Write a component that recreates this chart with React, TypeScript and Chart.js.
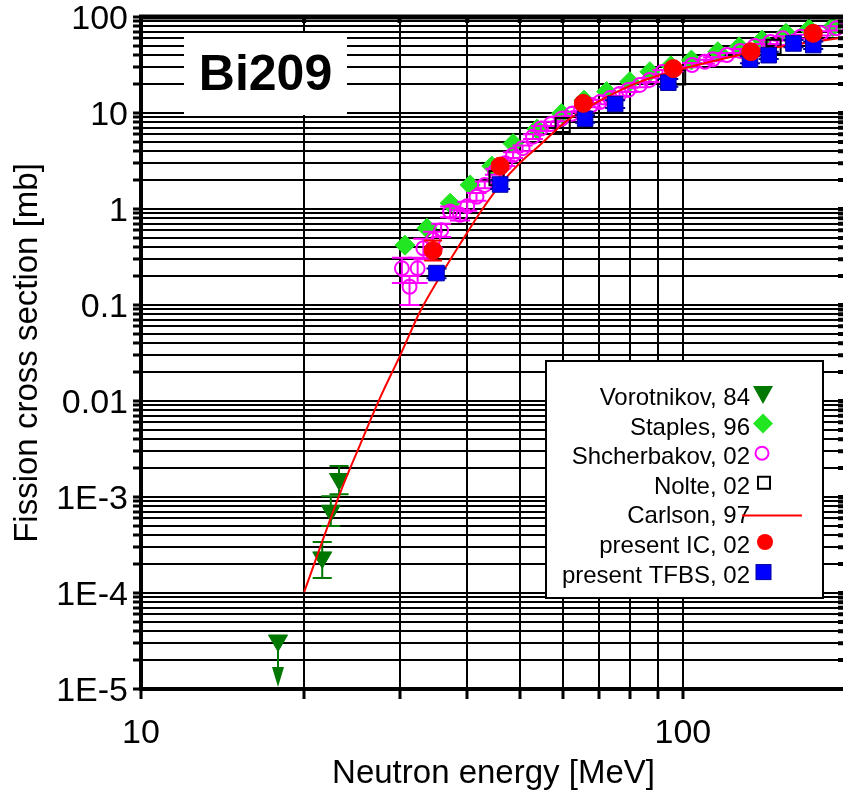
import React, { useEffect, useRef } from 'react';
import { Chart, registerables } from 'chart.js';

Chart.register(...registerables);

// ---------------- data ----------------
const xTickValues = [10, 20, 30, 40, 50, 60, 70, 80, 90, 100, 200];
const xTickLabels = ['10', '', '', '', '', '', '', '', '', '100', ''];

const yGridValues = [
  1e-5, 2e-5, 3e-5, 4e-5, 5e-5, 6e-5, 7e-5, 8e-5, 9e-5,
  1e-4, 2e-4, 3e-4, 4e-4, 5e-4, 6e-4, 7e-4, 8e-4, 9e-4,
  1e-3, 2e-3, 3e-3, 4e-3, 5e-3, 6e-3, 7e-3, 8e-3, 9e-3,
  0.01, 0.02, 0.03, 0.04, 0.05, 0.06, 0.07, 0.08, 0.09,
  0.1, 0.2, 0.3, 0.4, 0.5, 0.6, 0.7, 0.8, 0.9,
  1, 2, 3, 4, 5, 6, 7, 8, 9,
  10, 20, 30, 40, 50, 60, 70, 80, 90,
  100,
];
const yMajorValues = [1e-5, 1e-4, 1e-3, 0.01, 0.1, 1, 10, 100];
const yMajorLabels = ['1E-5', '1E-4', '1E-3', '0.01', '0.1', '1', '10', '100'];

const xTitle = 'Neutron energy [MeV]';
const yTitle = 'Fission cross section [mb]';
const plotLabel = 'Bi209';
const legendLabels = [
  'Vorotnikov, 84',
  'Staples, 96',
  'Shcherbakov, 02',
  'Nolte, 02',
  'Carlson, 97',
  'present IC, 02',
  'present TFBS, 02',
];

// Vorotnikov, 84
const vorotE = [17.9, 21.6, 22.4, 23.2];
const vorotV = [3.2e-5, 2.35e-4, 7.2e-4, 1.54e-3];
const vorotLo = [null, 1.43e-4, 5.0e-4, 1.07e-3];
const vorotHi = [null, 3.4e-4, 1.02e-3, 2.1e-3];
const vorotArrowTo = [1.05e-5, null, null, null];

// Staples, 96
const stapE = [30.7, 33.7, 37.2, 40.5, 44.4, 48.6, 53.8, 59.7, 65.7, 72.3, 79.8, 86.9, 95, 103.7, 116, 127, 140, 155, 171, 189];
const stapV = [0.42, 0.63, 1.15, 1.78, 2.8, 4.8, 6.8, 9.9, 13.6, 16.7, 21.2, 26.9, 31, 35.6, 43.5, 49, 57.5, 67.6, 75, 79];

// Shcherbakov, 02
const shchE = [30.3, 31.3, 32.4, 33.2, 34.6, 35.8, 37.2, 38.8, 40.0, 41.6, 43.1, 45.0, 47.0, 48.6, 50.6, 52.9, 54.7, 57.1, 59.7, 62.4, 64.9, 67.8, 70.3, 73.4, 76.4, 79.3, 83.3, 86.8, 91.7, 96.6, 104, 109.8, 113.6, 120.6, 127.6, 135.8, 145, 152.8, 165, 180, 192];
const shchV = [0.241, 0.155, 0.241, 0.39, 0.48, 0.6, 0.94, 0.87, 1.07, 1.34, 1.78, 2.45, 2.99, 3.65, 4.3, 5.67, 6.9, 7.7, 8.7, 9.8, 11.0, 12.1, 13.0, 14.3, 15.8, 17.4, 19.6, 22.1, 26.7, 28.7, 31.6, 34.2, 36.3, 40.2, 44.3, 49.9, 54.9, 60, 62.3, 67.6, 76.3];
const shchLo = [0.17, 0.1, 0.17, 0.3, 0.39, 0.51, 0.82, 0.76, 0.96, 1.22, 1.64, 2.27, 2.8, 3.4, 4.0, 5.35, 6.5, 7.3, 8.2, 9.3, 10.4, 11.5, 12.3, 13.6, 15.0, 16.5, 18.6, 21.0, 25.4, 27.3, 30.0, 32.5, 34.5, 38.2, 42.1, 47.4, 52.2, 57, 59.2, 64.2, 72.5];
const shchHi = [0.31, 0.2, 0.31, 0.49, 0.58, 0.7, 1.06, 0.98, 1.19, 1.47, 1.93, 2.63, 3.2, 3.9, 4.6, 6.0, 7.3, 8.1, 9.2, 10.3, 11.6, 12.7, 13.7, 15.0, 16.6, 18.3, 20.6, 23.2, 28.0, 30.1, 33.2, 35.9, 38.1, 42.2, 46.5, 52.4, 57.6, 63, 65.4, 71, 80.1];

// Nolte, 02
const nolteE = [45.3, 60, 98, 147];
const nolteV = [2.1, 7.5, 23.5, 49];

// Carlson, 97 (evaluation curve)
const carlE = [20, 23.3, 25.4, 27.6, 30.1, 32.7, 35.6, 38.8, 42.2, 46, 50, 54.5, 61, 70, 83, 110, 147, 184, 200];
const carlV = [1.02e-4, 1.1e-3, 3.56e-3, 0.0107, 0.0301, 0.0846, 0.196, 0.432, 0.909, 1.78, 3.01, 4.64, 8.25, 13.3, 21.0, 33.2, 47.5, 57.6, 61.9];

// present IC, 02
const icE = [34.6, 46, 65.5, 96, 133.5, 174];
const icV = [0.37, 2.8, 12.6, 29, 43.5, 67.6];
const icLo = [0.29, 2.6, 11.8, 27.3, 41, 63.5];
const icHi = [0.47, 3.0, 13.4, 30.8, 46, 72];

// present TFBS, 02
const tfE = [35.1, 46, 66, 75, 94, 133, 144, 160, 174];
const tfV = [0.215, 1.8, 8.7, 12.4, 20.7, 36, 40, 53, 51];
const tfLo = [0.19, 1.62, 7.9, 11.3, 18.8, 33, 36.5, 48.5, 46.5];
const tfHi = [0.24, 1.98, 9.5, 13.6, 22.6, 39, 43.5, 57.5, 55.5];

// ---------------- styles ----------------
const FONT = "'Liberation Sans', Arial, Helvetica, sans-serif";
const C_VOROT = '#007800';
const C_STAP = '#22e622';
const C_SHCH = '#ff00ff';
const C_NOLTE = '#000000';
const C_CARL = '#ff0000';
const C_IC = '#ff0000';
const C_TF = '#0000ff';

const pts = (xs: number[], ys: number[]) => xs.map((x, i) => ({ x, y: ys[i] }));

const errorBarPlugin = {
  id: 'errorBars',
  beforeDatasetDraw(chart: any, args: any) {
    const ds: any = chart.data.datasets[args.index];
    const meta = args.meta;
    const yScale = chart.scales.y;
    const ctx = chart.ctx;
    const area = chart.chartArea;
    ctx.save();
    ctx.beginPath();
    ctx.rect(area.left, area.top, area.right - area.left, area.bottom - area.top);
    ctx.clip();
    ctx.strokeStyle = ds.errColor || ds.borderColor;
    ctx.fillStyle = ds.errColor || ds.borderColor;
    ctx.lineWidth = 2;
    const cap = (ds.capWidth || 16) / 2;
    meta.data.forEach((el: any, i: number) => {
      const x = el.x;
      if (ds.errLo && ds.errHi && ds.errLo[i] != null && ds.errHi[i] != null) {
        const y1 = yScale.getPixelForValue(ds.errLo[i]);
        const y2 = yScale.getPixelForValue(ds.errHi[i]);
        ctx.beginPath();
        ctx.moveTo(x, y1); ctx.lineTo(x, y2);
        ctx.moveTo(x - cap, y1); ctx.lineTo(x + cap, y1);
        ctx.moveTo(x - cap, y2); ctx.lineTo(x + cap, y2);
        ctx.stroke();
      }
      if (ds.arrowTo && ds.arrowTo[i] != null) {
        const yTip = yScale.getPixelForValue(ds.arrowTo[i]);
        ctx.beginPath();
        ctx.moveTo(x, el.y); ctx.lineTo(x, yTip - 18);
        ctx.stroke();
        ctx.beginPath();
        ctx.moveTo(x - 6, yTip - 20);
        ctx.lineTo(x + 6, yTip - 20);
        ctx.lineTo(x, yTip);
        ctx.closePath();
        ctx.fill();
      }
    });
    ctx.restore();
  },
};

const overlayPlugin = {
  id: 'overlay',
  beforeDatasetsDraw(chart: any) {
    const ctx = chart.ctx;
    const a = chart.chartArea;
    ctx.save();
    // Bi209 label box
    const bx = a.left + 43, by = a.top + 16, bw = 163, bh = 82;
    ctx.fillStyle = '#ffffff';
    ctx.fillRect(bx, by, bw, bh);
    ctx.fillStyle = '#000';
    ctx.font = `bold 50px ${FONT}`;
    ctx.textAlign = 'center';
    ctx.textBaseline = 'middle';
    ctx.fillText(plotLabel, bx + bw / 2, by + bh / 2 + 2);

    // legend box
    const lx = a.left + 405, ly = a.top + 344, lw = 277, lh = 237;
    ctx.fillStyle = '#ffffff';
    ctx.fillRect(lx, ly, lw, lh);
    ctx.strokeStyle = '#000';
    ctx.lineWidth = 2;
    ctx.strokeRect(lx, ly, lw, lh);

    const textRight = lx + 204;
    const mx = lx + 217;
    const base0 = ly + 44;
    const step = 29.6;
    ctx.font = `24px ${FONT}`;
    ctx.textAlign = 'right';
    ctx.textBaseline = 'alphabetic';
    legendLabels.forEach((lab, i) => {
      const by2 = base0 + i * step;
      ctx.fillStyle = '#000';
      ctx.fillText(lab, textRight, by2);
      const my = by2 - 11;
      ctx.beginPath();
      switch (i) {
        case 0: // down triangle
          ctx.fillStyle = C_VOROT;
          ctx.moveTo(mx - 10, my - 8);
          ctx.lineTo(mx + 10, my - 8);
          ctx.lineTo(mx, my + 10);
          ctx.closePath();
          ctx.fill();
          break;
        case 1: // diamond
          ctx.fillStyle = C_STAP;
          ctx.moveTo(mx, my - 10);
          ctx.lineTo(mx + 10, my);
          ctx.lineTo(mx, my + 10);
          ctx.lineTo(mx - 10, my);
          ctx.closePath();
          ctx.fill();
          break;
        case 2: // open circle
          ctx.strokeStyle = C_SHCH;
          ctx.lineWidth = 2;
          ctx.arc(mx - 1, my, 6.5, 0, Math.PI * 2);
          ctx.stroke();
          break;
        case 3: // open square
          ctx.strokeStyle = C_NOLTE;
          ctx.lineWidth = 2;
          ctx.rect(mx - 5, my - 6, 12, 12);
          ctx.stroke();
          break;
        case 4: // line
          ctx.strokeStyle = C_CARL;
          ctx.lineWidth = 2;
          ctx.moveTo(lx + 196, by2 - 8);
          ctx.lineTo(lx + 256, by2 - 8);
          ctx.stroke();
          break;
        case 5: // filled circle
          ctx.fillStyle = C_IC;
          ctx.arc(mx + 2, my, 8, 0, Math.PI * 2);
          ctx.fill();
          break;
        case 6: // filled square
          ctx.fillStyle = C_TF;
          ctx.fillRect(mx - 7, my - 7, 15, 15);
          ctx.strokeStyle = '#0000a0';
          ctx.lineWidth = 1;
          ctx.strokeRect(mx - 7, my - 7, 15, 15);
          break;
      }
    });
    ctx.restore();
  },
  afterDraw(chart: any) {
    const ctx = chart.ctx;
    const a = chart.chartArea;
    const xs = chart.scales.x;
    const ys = chart.scales.y;
    ctx.save();
    ctx.strokeStyle = '#000';
    // inward ticks on the right and top axes
    ctx.lineWidth = 4;
    ctx.beginPath();
    yGridValues.forEach((v) => {
      const py = ys.getPixelForValue(v);
      ctx.moveTo(a.right - 8, py);
      ctx.lineTo(a.right, py);
    });
    xTickValues.forEach((v) => {
      const px = xs.getPixelForValue(v);
      ctx.moveTo(px, a.top);
      ctx.lineTo(px, a.top + 6);
    });
    ctx.stroke();
    // frame top and right
    ctx.lineWidth = 5;
    ctx.beginPath();
    ctx.moveTo(a.left - 2, a.top);
    ctx.lineTo(a.right, a.top);
    ctx.stroke();
    ctx.lineWidth = 4;
    ctx.beginPath();
    ctx.moveTo(a.right, a.top);
    ctx.lineTo(a.right, a.bottom);
    ctx.stroke();
    ctx.restore();
  },
};

export default function App() {
  const ref = useRef<HTMLCanvasElement | null>(null);
  useEffect(() => {
    if (!ref.current) return;
    const chart = new Chart(ref.current, {
      type: 'scatter',
      data: {
        datasets: [
          {
            label: legendLabels[0],
            data: pts(vorotE, vorotV),
            pointStyle: 'triangle',
            rotation: 180,
            pointRadius: 11,
            backgroundColor: C_VOROT,
            borderColor: C_VOROT,
            borderWidth: 1,
            errLo: vorotLo,
            errHi: vorotHi,
            arrowTo: vorotArrowTo,
            capWidth: 19,
            order: 6,
          } as any,
          {
            label: legendLabels[1],
            data: pts(stapE, stapV),
            pointStyle: 'rectRot',
            pointRadius: 10,
            backgroundColor: C_STAP,
            borderColor: C_STAP,
            borderWidth: 1,
            order: 5,
          },
          {
            label: legendLabels[2],
            data: pts(shchE, shchV),
            pointStyle: 'circle',
            pointRadius: 7,
            backgroundColor: 'rgba(0,0,0,0)',
            borderColor: C_SHCH,
            borderWidth: 2,
            errLo: shchLo,
            errHi: shchHi,
            capWidth: 20,
            order: 4,
          } as any,
          {
            label: legendLabels[3],
            data: pts(nolteE, nolteV),
            pointStyle: 'rect',
            pointRadius: 10,
            backgroundColor: 'rgba(0,0,0,0)',
            borderColor: C_NOLTE,
            borderWidth: 2,
            order: 3,
          },
          {
            label: legendLabels[4],
            data: pts(carlE, carlV),
            showLine: true,
            pointRadius: 0,
            borderColor: C_CARL,
            borderWidth: 2,
            cubicInterpolationMode: 'monotone',
            fill: false,
            order: 2,
          } as any,
          {
            label: legendLabels[5],
            data: pts(icE, icV),
            pointStyle: 'circle',
            pointRadius: 9,
            backgroundColor: C_IC,
            borderColor: C_IC,
            borderWidth: 1,
            errLo: icLo,
            errHi: icHi,
            capWidth: 18,
            order: 0,
          } as any,
          {
            label: legendLabels[6],
            data: pts(tfE, tfV),
            pointStyle: 'rect',
            pointRadius: 11,
            backgroundColor: C_TF,
            borderColor: '#0000a0',
            borderWidth: 1,
            errLo: tfLo,
            errHi: tfHi,
            capWidth: 20,
            order: 1,
          } as any,
        ],
      },
      options: {
        responsive: false,
        animation: false,
        events: [],
        layout: { padding: { top: 17, right: 0, left: 0, bottom: 0 } },
        plugins: {
          legend: { display: false },
          tooltip: { enabled: false },
        },
        scales: {
          x: {
            type: 'logarithmic',
            position: 'bottom',
            min: 10,
            max: 200,
            afterBuildTicks: (s: any) => {
              s.ticks = xTickValues.map((v) => ({ value: v }));
            },
            afterFit: (s: any) => {
              s.height = 109;
            },
            ticks: {
              autoSkip: false,
              maxRotation: 0,
              minRotation: 0,
              color: '#000',
              padding: 0,
              font: { family: FONT, size: 34, lineHeight: 2.06 },
              callback: (_v: any, i: number) => xTickLabels[i] ?? '',
            },
            grid: {
              color: '#000',
              lineWidth: 2,
              drawTicks: true,
              tickLength: 10,
              tickWidth: 3,
              tickColor: '#000',
            },
            border: { display: true, color: '#000', width: 4 },
            title: {
              display: true,
              text: xTitle,
              color: '#000',
              font: { family: FONT, size: 33 },
              padding: { top: 0, bottom: 4 },
            },
          },
          y: {
            type: 'logarithmic',
            position: 'left',
            min: 1e-5,
            max: 100,
            afterBuildTicks: (s: any) => {
              s.ticks = yGridValues.map((v) => ({ value: v }));
            },
            afterFit: (s: any) => {
              s.width = 141;
            },
            ticks: {
              autoSkip: false,
              color: '#000',
              padding: 5,
              labelOffset: 3,
              font: { family: FONT, size: 34, lineHeight: 0.5 },
              callback: (v: any) => {
                const k = yMajorValues.findIndex(
                  (m) => Math.abs(Math.log10(m) - Math.log10(Number(v))) < 1e-6
                );
                return k >= 0 ? yMajorLabels[k] : '';
              },
            },
            grid: {
              color: '#000',
              lineWidth: 2,
              drawTicks: true,
              tickLength: 8,
              tickWidth: 3,
              tickColor: '#000',
            },
            border: { display: true, color: '#000', width: 4 },
            title: {
              display: true,
              text: yTitle,
              color: '#000',
              font: { family: FONT, size: 33 },
              padding: { top: 8, bottom: 0 },
            },
          },
        },
      } as any,
      plugins: [errorBarPlugin, overlayPlugin],
    });
    return () => chart.destroy();
  }, []);

  return (
    <div
      style={{
        position: 'absolute',
        left: 0,
        top: 0,
        width: 843,
        height: 798,
        overflow: 'hidden',
        background: '#fff',
      }}
    >
      <canvas ref={ref} width={858} height={798} style={{ display: 'block' }} />
    </div>
  );
}
